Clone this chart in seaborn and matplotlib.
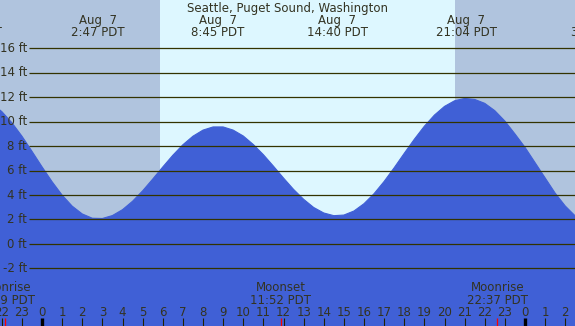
import matplotlib
matplotlib.use("Agg")
import matplotlib.pyplot as plt
import seaborn as sns
import pandas as pd

# ---------------- data ----------------
title = "Seattle, Puget Sound, Washington"

# hours since midnight Aug 7 (half-hourly) and tide height in ft
times = [-2.5, -2.0, -1.5, -1.0, -0.5, 0.0, 0.5, 1.0, 1.5, 2.0, 2.5, 3.0,
         3.5, 4.0, 4.5, 5.0, 5.5, 6.0, 6.5, 7.0, 7.5, 8.0, 8.5, 9.0,
         9.5, 10.0, 10.5, 11.0, 11.5, 12.0, 12.5, 13.0, 13.5, 14.0, 14.5, 15.0,
         15.5, 16.0, 16.5, 17.0, 17.5, 18.0, 18.5, 19.0, 19.5, 20.0, 20.5, 21.0,
         21.5, 22.0, 22.5, 23.0, 23.5, 24.0, 24.5, 25.0, 25.5, 26.0, 26.5, 27.0]
heights = [11.48, 10.83, 9.92, 8.82, 7.58, 6.31, 5.09, 3.99, 3.09, 2.45, 2.10, 2.08,
           2.32, 2.80, 3.49, 4.34, 5.30, 6.29, 7.25, 8.11, 8.81, 9.31, 9.57, 9.57,
           9.31, 8.83, 8.13, 7.30, 6.36, 5.39, 4.46, 3.65, 2.98, 2.53, 2.31, 2.36,
           2.69, 3.29, 4.11, 5.11, 6.23, 7.41, 8.56, 9.63, 10.54, 11.25, 11.71, 11.90,
           11.82, 11.50, 10.90, 10.05, 9.00, 7.90, 6.65, 5.40, 4.15, 3.10, 2.28, 1.80]

# high/low tide labels
extreme_times = [-3.5, 2.78, 8.75, 14.67, 21.07, 27.63]
extreme_dates = ["Aug  6", "Aug  7", "Aug  7", "Aug  7", "Aug  7", "Aug  8"]
extreme_clock = ["20:31 PDT", "2:47 PDT", "8:45 PDT", "14:40 PDT", "21:04 PDT", "3:38 PDT"]

# moon events
moon_times = [-1.85, 11.87, 22.62]
moon_names = ["Moonrise", "Moonset", "Moonrise"]
moon_clock = ["22:09 PDT", "11:52 PDT", "22:37 PDT"]

sunrise, sunset = 5.86, 20.52

height_levels = [-2, 0, 2, 4, 6, 8, 10, 12, 14, 16]
hour_ticks = list(range(-2, 27))

# ---------------- style ----------------
NIGHT = "#B0C4DE"
DAY = "#DDF7FF"
WATER = "#4060D6"
GRID = "#333300"
TEXT = "#333322"

sns.set_style("white")
plt.rcParams["font.family"] = ["DejaVu Sans"]

W, H = 575, 326
PX_PER_H = 20.125
X0 = 42.0  # pixel of midnight Aug 7
PX_PER_FT = 12.222
Y0 = 243.9  # pixel of 0 ft

def xd(px):
    return (px - X0) / PX_PER_H

def yd(py):
    return (Y0 - py) / PX_PER_FT

fig = plt.figure(figsize=(W / 100, H / 100), dpi=100)
ax = fig.add_axes([0, 0, 1, 1])
xmin, xmax = xd(0), xd(W)
ymin, ymax = yd(H), yd(0)

# backgrounds
ax.axvspan(xmin - 5, sunrise, color=NIGHT, lw=0, zorder=0)
ax.axvspan(sunrise, sunset, color=DAY, lw=0, zorder=0)
ax.axvspan(sunset, xmax + 5, color=NIGHT, lw=0, zorder=0)

# tide
df = pd.DataFrame({"t": times, "h": heights})
ax.fill_between(df["t"], df["h"], -20, color=WATER, lw=0, zorder=1)
sns.lineplot(data=df, x="t", y="h", color=WATER, lw=0.8, ax=ax, zorder=2,
             legend=False)

# horizontal grid lines with labels
for v in height_levels:
    ax.plot([xd(29), xmax + 5], [v, v], color=GRID, lw=0.9, zorder=3,
            solid_capstyle="butt")
    ax.text(xd(27), v - 3.7 / PX_PER_FT, f"{v} ft", ha="right", va="baseline",
            fontsize=8.5, color=TEXT, zorder=4)

# title and extreme labels
ax.text(xd(287.5), yd(12), title, ha="center", va="baseline", fontsize=8.5,
        color=TEXT, zorder=4)
for t, d, c in zip(extreme_times, extreme_dates, extreme_clock):
    ax.text(t, yd(24), d, ha="center", va="baseline", fontsize=8.5, color=TEXT, zorder=4)
    ax.text(t, yd(36), c, ha="center", va="baseline", fontsize=8.5, color=TEXT, zorder=4)

# moon labels
for t, n, c in zip(moon_times, moon_names, moon_clock):
    ax.text(t, yd(290.7), n, ha="center", va="baseline", fontsize=8.5, color=TEXT, zorder=4)
    ax.text(t, yd(304.3), c, ha="center", va="baseline", fontsize=8.5, color=TEXT, zorder=4)

# hour labels and ticks
tick_top, tick_bot = yd(318), yd(H + 5)
for hr in hour_ticks:
    ax.text(hr, yd(316), str(hr % 24), ha="center", va="baseline", fontsize=8.5,
            color=TEXT, zorder=4)
    if hr % 24 == 0:
        ax.plot([hr, hr], [tick_top, tick_bot], color="black", lw=2.4, zorder=4,
                solid_capstyle="butt")
    else:
        ax.plot([hr, hr], [tick_top, tick_bot], color="#222200", lw=0.8, zorder=4,
                solid_capstyle="butt")
for t in moon_times:
    ax.plot([t, t], [tick_top, tick_bot], color="red", lw=0.9, zorder=5,
            solid_capstyle="butt")

ax.set_xlim(xmin, xmax)
ax.set_ylim(ymin, ymax)
ax.axis("off")

fig.savefig("out.png", dpi=100)
